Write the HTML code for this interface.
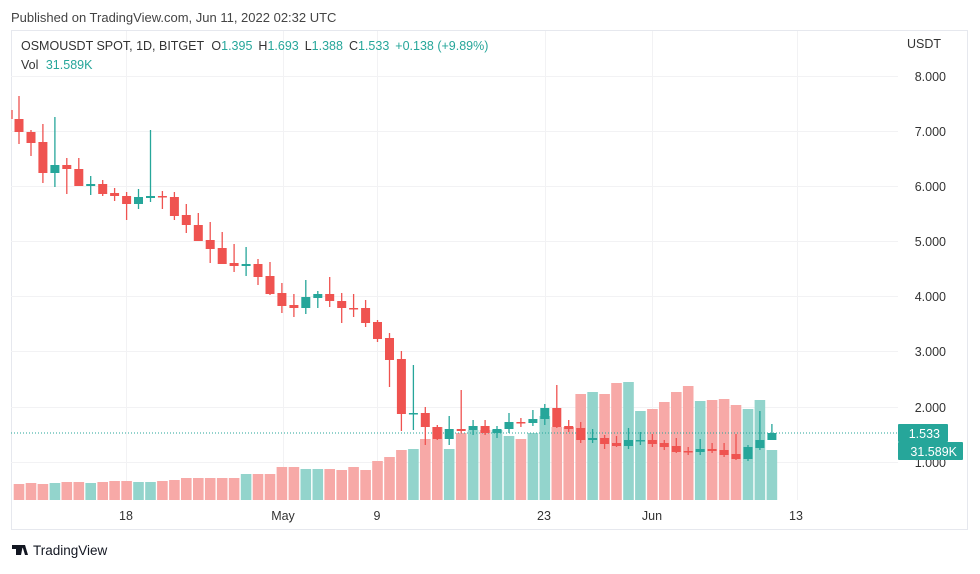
<!DOCTYPE html>
<html><head><meta charset="utf-8"><style>
body{margin:0;background:#fff;width:980px;height:569px;overflow:hidden;font-family:"Liberation Sans",sans-serif}
</style></head><body>
<svg width="980" height="569" viewBox="0 0 980 569" xmlns="http://www.w3.org/2000/svg" font-family="Liberation Sans, sans-serif">
<text x="11" y="22" font-size="13" fill="#444">Published on TradingView.com, Jun 11, 2022 02:32 UTC</text>
<rect x="11.5" y="30.5" width="956" height="499" fill="#fff" stroke="#e6e8ee"/>
<g stroke="#f2f2f4" stroke-width="1">
<path d="M11 76.5H898M11 131.5H898M11 186.5H898M11 241.5H898M11 296.5H898M11 351.5H898M11 407.5H898M11 462.5H898"/>
<path d="M126.5 31V500M283.5 31V500M377.5 31V500M545.5 31V500M652.5 31V500M797.5 31V500"/>
</g>
<!-- volume -->
<g fill="#f7a9a7">
<rect x="13.7" y="484" width="10.6" height="16"/><rect x="25.7" y="483" width="10.6" height="17"/><rect x="37.6" y="484" width="10.6" height="16"/>
<rect x="61.5" y="482" width="10.6" height="18"/><rect x="73.5" y="482" width="10.6" height="18"/>
<rect x="97.4" y="482" width="10.6" height="18"/><rect x="109.3" y="481" width="10.6" height="19"/><rect x="121.3" y="481" width="10.6" height="19"/>
<rect x="157.1" y="481" width="10.6" height="19"/><rect x="169.1" y="480" width="10.6" height="20"/><rect x="181" y="478" width="10.6" height="22"/><rect x="193" y="478" width="10.6" height="22"/><rect x="204.9" y="478" width="10.6" height="22"/><rect x="216.9" y="478" width="10.6" height="22"/><rect x="228.8" y="478" width="10.6" height="22"/>
<rect x="252.7" y="474" width="10.6" height="26"/><rect x="264.7" y="474" width="10.6" height="26"/><rect x="276.6" y="467" width="10.6" height="33"/><rect x="288.6" y="467" width="10.6" height="33"/>
<rect x="324.4" y="469" width="10.6" height="31"/><rect x="336.4" y="470" width="10.6" height="30"/><rect x="348.3" y="467" width="10.6" height="33"/><rect x="360.3" y="470" width="10.6" height="30"/><rect x="372.2" y="461" width="10.6" height="39"/><rect x="384.2" y="457" width="10.6" height="43"/><rect x="396.1" y="450" width="10.6" height="50"/>
<rect x="420" y="439" width="10.6" height="61"/><rect x="432" y="427" width="10.6" height="73"/>
<rect x="455.9" y="433" width="10.6" height="67"/><rect x="479.8" y="430" width="10.6" height="70"/>
<rect x="515.6" y="439" width="10.6" height="61"/>
<rect x="551.5" y="427" width="10.6" height="73"/><rect x="563.4" y="427" width="10.6" height="73"/><rect x="575.4" y="394" width="10.6" height="106"/>
<rect x="599.3" y="394" width="10.6" height="106"/><rect x="611.2" y="383" width="10.6" height="117"/>
<rect x="647.1" y="409" width="10.6" height="91"/><rect x="659" y="402" width="10.6" height="98"/><rect x="671" y="392" width="10.6" height="108"/><rect x="682.9" y="386" width="10.6" height="114"/>
<rect x="706.8" y="400" width="10.6" height="100"/><rect x="718.8" y="399" width="10.6" height="101"/><rect x="730.7" y="405" width="10.6" height="95"/>
</g>
<g fill="#93d4cc">
<rect x="49.6" y="483" width="10.6" height="17"/><rect x="85.4" y="483" width="10.6" height="17"/><rect x="133.2" y="482" width="10.6" height="18"/><rect x="145.2" y="482" width="10.6" height="18"/>
<rect x="240.8" y="474" width="10.6" height="26"/><rect x="300.5" y="469" width="10.6" height="31"/><rect x="312.5" y="469" width="10.6" height="31"/>
<rect x="408.1" y="449" width="10.6" height="51"/><rect x="443.9" y="449" width="10.6" height="51"/><rect x="467.8" y="430" width="10.6" height="70"/>
<rect x="491.7" y="430" width="10.6" height="70"/><rect x="503.7" y="436" width="10.6" height="64"/><rect x="527.6" y="433" width="10.6" height="67"/><rect x="539.5" y="416" width="10.6" height="84"/>
<rect x="587.3" y="392" width="10.6" height="108"/><rect x="623.2" y="382" width="10.6" height="118"/><rect x="635.1" y="411" width="10.6" height="89"/>
<rect x="694.9" y="401" width="10.6" height="99"/><rect x="742.7" y="409" width="10.6" height="91"/><rect x="754.6" y="400" width="10.6" height="100"/><rect x="766.6" y="450" width="10.6" height="50"/>
</g>
<path d="M11 433H898" stroke="#26a69a" stroke-width="1" stroke-dasharray="1,2"/>
<!-- red candles -->
<g stroke="#ef5350" stroke-width="1.3" fill="none">
<path d="M12 110V119M19 96V144M31 130V156M42.9 124V183M66.8 158V194M78.8 158V186M102.7 180V196M114.6 188V201M126.6 192V220M162.4 191V209M174.4 192V220M186.3 204V233M198.3 213V241M210.2 222V263M222.2 232V264M234.1 244V272M258 259V285M270 262V295M281.9 283V313M293.9 294V317M329.7 277V307M341.7 293V323M353.6 294V317M365.6 300V327M377.5 320V342M389.5 333V387M401.4 351V431M425.3 407V445M437.3 425V440M461.2 390V433M485.1 420V435M520.9 418V427M556.8 385V428M568.7 420V432M580.7 422V443M604.6 435V449M616.5 436V447M652.4 434V447M664.3 440V450M676.3 438V453M688.2 447V455M712.1 443V453M724.1 443V457M736 434V460"/>
</g>
<g fill="#ef5350">
<rect x="14.5" y="119" width="9" height="13"/><rect x="26.5" y="132" width="9" height="11"/><rect x="38.4" y="142" width="9" height="31"/><rect x="62.3" y="165" width="9" height="4"/><rect x="74.3" y="169" width="9" height="17"/><rect x="98.2" y="184" width="9" height="10"/><rect x="110.1" y="193" width="9" height="3"/><rect x="122.1" y="196" width="9" height="8"/><rect x="157.9" y="196" width="9" height="1.5"/><rect x="169.9" y="197" width="9" height="19"/><rect x="181.8" y="215" width="9" height="10"/><rect x="193.8" y="225" width="9" height="16"/><rect x="205.7" y="240" width="9" height="9"/><rect x="217.7" y="248" width="9" height="16"/><rect x="229.6" y="263" width="9" height="3"/><rect x="253.5" y="264" width="9" height="13"/><rect x="265.5" y="276" width="9" height="18"/><rect x="277.4" y="293" width="9" height="13"/><rect x="289.4" y="305" width="9" height="3"/><rect x="325.2" y="294" width="9" height="7"/><rect x="337.2" y="301" width="9" height="7"/><rect x="349.1" y="308" width="9" height="1.5"/><rect x="361.1" y="308" width="9" height="15"/><rect x="373" y="322" width="9" height="17"/><rect x="385" y="338" width="9" height="22"/><rect x="396.9" y="359" width="9" height="55"/><rect x="420.8" y="413" width="9" height="14"/><rect x="432.8" y="427" width="9" height="12"/><rect x="456.7" y="429" width="9" height="2"/><rect x="480.6" y="426" width="9" height="7"/><rect x="516.4" y="422" width="9" height="1.5"/><rect x="552.3" y="408" width="9" height="19"/><rect x="564.2" y="426" width="9" height="3"/><rect x="576.2" y="428" width="9" height="12"/><rect x="600.1" y="438" width="9" height="6"/><rect x="612" y="443" width="9" height="3"/><rect x="647.9" y="440" width="9" height="4"/><rect x="659.8" y="443" width="9" height="4"/><rect x="671.8" y="446" width="9" height="6"/><rect x="683.7" y="451" width="9" height="1.5"/><rect x="707.6" y="449" width="9" height="2"/><rect x="719.6" y="450" width="9" height="5"/><rect x="731.5" y="454" width="9" height="5"/>
</g>
<!-- green candles -->
<g stroke="#26a69a" stroke-width="1.3" fill="none">
<path d="M54.9 117V187M90.7 176V195M138.5 189V209M150.5 130V202M246.1 247V276M305.8 280V314M317.8 291V308M413.4 365V430M449.2 416V445M473.1 420V435M497 426V438M509 413V433M532.9 410V426M544.8 404V425M592.6 429V443M628.5 428V449M640.4 432V445M700.2 439V455M748 445V461M759.9 411V450M771.9 424V440"/>
</g>
<g fill="#26a69a">
<rect x="50.4" y="165" width="9" height="8"/><rect x="86.2" y="184" width="9" height="2"/><rect x="134" y="197" width="9" height="7"/><rect x="146" y="196" width="9" height="2"/><rect x="241.6" y="264" width="9" height="2"/><rect x="301.3" y="297" width="9" height="11"/><rect x="313.3" y="294" width="9" height="4"/><rect x="408.9" y="413" width="9" height="1.5"/><rect x="444.7" y="429" width="9" height="10"/><rect x="468.6" y="426" width="9" height="4"/><rect x="492.5" y="429" width="9" height="4"/><rect x="504.5" y="422" width="9" height="7"/><rect x="528.4" y="419" width="9" height="4"/><rect x="540.3" y="408" width="9" height="11"/><rect x="588.1" y="438" width="9" height="2"/><rect x="624" y="440" width="9" height="6"/><rect x="635.9" y="440" width="9" height="1.5"/><rect x="695.7" y="449" width="9" height="3"/><rect x="743.5" y="447" width="9" height="12"/><rect x="755.4" y="440" width="9" height="8"/><rect x="767.4" y="433" width="9" height="7"/>
</g>
<!-- header -->
<text x="21" y="50" font-size="12.5" fill="#333">OSMOUSDT SPOT, 1D, BITGET <tspan dx="4">O</tspan><tspan fill="#26a69a">1.395</tspan><tspan dx="6">H</tspan><tspan fill="#26a69a">1.693</tspan><tspan dx="6">L</tspan><tspan fill="#26a69a">1.388</tspan><tspan dx="6">C</tspan><tspan fill="#26a69a">1.533</tspan><tspan dx="6" fill="#26a69a">+0.138 (+9.89%)</tspan></text>
<text x="21" y="69" font-size="12.5" fill="#333">Vol <tspan dx="4" fill="#26a69a">31.589K</tspan></text>
<!-- axis -->
<g font-size="12.5" fill="#333" text-anchor="end">
<text x="941" y="48">USDT</text>
<text x="946" y="81">8.000</text><text x="946" y="136">7.000</text><text x="946" y="191">6.000</text><text x="946" y="246">5.000</text><text x="946" y="301">4.000</text><text x="946" y="356">3.000</text><text x="946" y="412">2.000</text><text x="946" y="467">1.000</text>
</g>
<rect x="898" y="424" width="50" height="18" rx="1" fill="#26a69a"/>
<rect x="898" y="442" width="65" height="18" rx="1" fill="#26a69a"/>
<text x="940" y="438" font-size="12.5" fill="#fff" text-anchor="end">1.533</text>
<text x="957" y="456" font-size="12.5" fill="#fff" text-anchor="end">31.589K</text>
<g font-size="12.5" fill="#333" text-anchor="middle">
<text x="126" y="520">18</text><text x="283" y="520">May</text><text x="377" y="520">9</text><text x="544" y="520">23</text><text x="652" y="520">Jun</text><text x="796" y="520">13</text>
</g>
<!-- logo -->
<path d="M12 545h8v10h-4v-6h-4z M20 545h3l-2 10h-2z" fill="#131722"/>
<path d="M22 545h3l3 10h-3z" fill="#131722"/>
<circle cx="24" cy="547" r="1.5" fill="#131722"/>
<text x="33" y="555" font-size="13.5" fill="#131722">TradingView</text>
</svg>
</body></html>
